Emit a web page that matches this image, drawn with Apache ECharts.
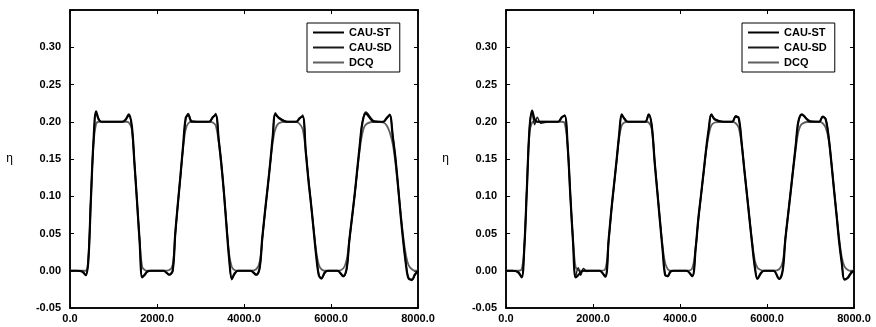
<!DOCTYPE html>
<html>
<head>
<meta charset="utf-8">
<script src="https://cdn.jsdelivr.net/npm/echarts@6/dist/echarts.min.js"></script>
<style>
html,body{margin:0;padding:0;background:#fff;}
#c{width:876px;height:327px;}
</style>
</head>
<body>
<div id="c"></div>
<script>
// Shared abscissa (t)
const X = [0,150,280,360,420,480,540,600,660,720,800,1000,1200,1280,1350,1420,1480,1540,1600,1660,1720,1780,1860,1930,
2000,2150,2280,2360,2420,2480,2540,2600,2660,2720,2800,3000,3200,3280,3350,3420,3480,3540,3600,3660,3720,3780,3860,3930,
4000,4150,4280,4360,4420,4480,4540,4600,4660,4720,4800,5000,5200,5280,5350,5420,5480,5540,5600,5660,5720,5780,5860,5930,
6000,6150,6280,6360,6420,6480,6540,6600,6660,6720,6800,7000,7200,7280,7350,7420,7480,7540,7600,7660,7720,7780,7860,7930,8000];

// Left panel
const L_ST = [0,0,-0.001,-0.006,0.012,0.096,0.174,0.214,0.203,0.200,0.200,0.200,0.200,0.203,0.210,0.195,0.146,0.094,0.040,-0.009,-0.005,-0.001,0,0,
0,0,-0.005,0.000,0.050,0.090,0.128,0.168,0.205,0.209,0.200,0.200,0.200,0.206,0.209,0.175,0.143,0.104,0.058,0.015,-0.011,-0.004,0,0,
0,0,-0.005,0.004,0.044,0.078,0.110,0.143,0.180,0.210,0.205,0.200,0.200,0.205,0.207,0.160,0.122,0.090,0.055,0.020,-0.006,-0.010,-0.002,0,
0,0,-0.007,0.003,0.040,0.070,0.100,0.134,0.168,0.198,0.211,0.200,0.200,0.205,0.209,0.180,0.152,0.115,0.075,0.040,0.010,-0.010,-0.012,-0.005,0];
const L_SD = [0,0,-0.001,-0.005,0.014,0.098,0.172,0.211,0.204,0.200,0.200,0.200,0.200,0.202,0.208,0.193,0.147,0.095,0.042,-0.007,-0.006,-0.001,0,0,
0,0,-0.006,-0.001,0.048,0.089,0.127,0.166,0.203,0.211,0.201,0.200,0.200,0.205,0.211,0.176,0.145,0.105,0.060,0.017,-0.012,-0.005,0,0,
0,0,-0.006,0.003,0.043,0.077,0.109,0.142,0.178,0.212,0.206,0.200,0.200,0.204,0.209,0.162,0.124,0.091,0.056,0.021,-0.005,-0.011,-0.003,0,
0,0,-0.008,0.002,0.039,0.069,0.099,0.133,0.167,0.199,0.213,0.201,0.200,0.204,0.210,0.182,0.153,0.116,0.076,0.041,0.011,-0.009,-0.013,-0.006,0];
const L_DCQ = [0,0,0,0,0.015,0.095,0.170,0.197,0.200,0.200,0.200,0.200,0.200,0.200,0.199,0.190,0.145,0.092,0.040,0.005,0.001,0,0,0,
0,0,0.001,0.008,0.050,0.090,0.128,0.165,0.190,0.198,0.200,0.200,0.200,0.199,0.195,0.172,0.140,0.103,0.060,0.022,0.005,0.001,0,0,
0,0,0.002,0.012,0.042,0.077,0.110,0.143,0.172,0.190,0.198,0.200,0.200,0.197,0.190,0.160,0.124,0.090,0.057,0.026,0.008,0.002,0,0,
0,0,0.003,0.015,0.040,0.070,0.100,0.132,0.162,0.184,0.196,0.200,0.199,0.195,0.186,0.170,0.145,0.113,0.078,0.046,0.022,0.008,0.002,0,0];

// Right panel
const R_ST = [0,0,-0.002,-0.009,0.030,0.110,0.190,0.215,0.203,0.200,0.200,0.200,0.200,0.206,0.208,0.165,0.100,0.040,-0.009,-0.006,-0.002,0,0,0,
0,0,-0.008,0.042,0.080,0.114,0.147,0.182,0.210,0.204,0.200,0.200,0.200,0.210,0.195,0.144,0.105,0.066,0.028,-0.006,-0.007,-0.001,0,0,
0,0,-0.007,0.030,0.069,0.100,0.131,0.163,0.190,0.210,0.203,0.200,0.200,0.207,0.205,0.170,0.135,0.102,0.068,0.035,0.005,-0.011,-0.003,0,
0,0,-0.011,0.000,0.041,0.073,0.104,0.136,0.168,0.200,0.210,0.200,0.200,0.207,0.203,0.178,0.145,0.109,0.074,0.038,0.010,-0.012,-0.009,-0.003,0];
const R_SD = [0,0,-0.002,-0.008,0.032,0.112,0.192,0.212,0.196,0.206,0.198,0.200,0.200,0.205,0.209,0.166,0.101,0.041,-0.008,0.004,-0.006,0.003,-0.001,0,
0,0,-0.007,0.040,0.079,0.113,0.146,0.181,0.209,0.205,0.200,0.200,0.200,0.209,0.196,0.145,0.106,0.067,0.029,-0.005,-0.008,-0.002,0,0,
0,0,-0.008,0.029,0.068,0.099,0.130,0.162,0.189,0.209,0.204,0.200,0.200,0.208,0.204,0.171,0.136,0.103,0.069,0.036,0.006,-0.010,-0.004,0,
0,0,-0.011,0.001,0.042,0.074,0.105,0.137,0.169,0.199,0.209,0.201,0.200,0.206,0.204,0.179,0.146,0.110,0.075,0.039,0.011,-0.011,-0.010,-0.004,0];
const R_DCQ = [0,0,0,0.002,0.030,0.110,0.185,0.199,0.200,0.200,0.200,0.200,0.200,0.200,0.198,0.165,0.100,0.042,0.005,0.001,0,0,0,0,
0,0,0.002,0.040,0.080,0.113,0.146,0.178,0.195,0.199,0.200,0.200,0.200,0.199,0.190,0.145,0.106,0.068,0.033,0.010,0.002,0,0,0,
0,0,0.003,0.032,0.068,0.099,0.130,0.160,0.182,0.195,0.199,0.200,0.200,0.198,0.192,0.168,0.134,0.101,0.069,0.038,0.014,0.004,0.001,0,
0,0,0.002,0.012,0.041,0.072,0.103,0.134,0.163,0.186,0.197,0.200,0.200,0.198,0.192,0.175,0.144,0.109,0.075,0.043,0.018,0.006,0.001,0,0];

const NAMES = ['CAU-ST','CAU-SD','DCQ'];
const X_TICKS = [0, 2000, 4000, 6000, 8000];
const Y_TICKS = [-0.05, 0.00, 0.05, 0.10, 0.15, 0.20, 0.25, 0.30];
const Y_NAME = 'η';

const STYLES = [
  {color:'#000', width:2.2},
  {color:'#1a1a1a', width:1.4},
  {color:'#5e5e5e', width:1.8}
];
const FONT = 'Liberation Sans';

function zip(ys){ return X.map((x,i)=>[x, ys[i]]); }

const grids = [
  {left:70, right:458, top:10, bottom:19, show:true, borderColor:'#000', borderWidth:1.5, backgroundColor:'#fff'},
  {left:506, right:22, top:10, bottom:19, show:true, borderColor:'#000', borderWidth:1.5, backgroundColor:'#fff'}
];

const xAxes = [], yAxes = [];
[0,1].forEach(g=>{
  xAxes.push({
    type:'value', gridIndex:g, min:0, max:8000, interval:2000, position:'bottom',
    axisLine:{show:true, onZero:false, lineStyle:{color:'#000', width:1.5}},
    axisTick:{show:true, inside:true, length:4, lineStyle:{color:'#000'}},
    splitLine:{show:false},
    axisLabel:{color:'#000', fontFamily:FONT, fontSize:11, fontWeight:'bold', margin:5,
      formatter:v=> X_TICKS.indexOf(v)>=0 ? v.toFixed(1) : ''}
  });
  xAxes.push({
    type:'value', gridIndex:g, min:0, max:8000, interval:2000, position:'top',
    axisLine:{show:true, onZero:false, lineStyle:{color:'#000', width:1.5}},
    axisTick:{show:true, inside:true, length:4, lineStyle:{color:'#000'}},
    splitLine:{show:false}, axisLabel:{show:false}
  });
  yAxes.push({
    type:'value', gridIndex:g, min:-0.05, max:0.35, interval:0.05, position:'left',
    name:Y_NAME, nameLocation:'middle', nameRotate:0, nameGap:57,
    nameTextStyle:{color:'#000', fontFamily:FONT, fontSize:12},
    axisLine:{show:true, onZero:false, lineStyle:{color:'#000', width:1.5}},
    axisTick:{show:true, inside:true, length:4, lineStyle:{color:'#000'}},
    splitLine:{show:false},
    axisLabel:{color:'#000', fontFamily:FONT, fontSize:11, fontWeight:'bold', margin:9,
      formatter:v=>{ const r = Math.round(v*100)/100; return Y_TICKS.some(t=>Math.abs(t-r)<1e-9) ? r.toFixed(2) : ''; }}
  });
  yAxes.push({
    type:'value', gridIndex:g, min:-0.05, max:0.35, interval:0.05, position:'right',
    axisLine:{show:true, onZero:false, lineStyle:{color:'#000', width:1.5}},
    axisTick:{show:true, inside:true, length:4, lineStyle:{color:'#000'}},
    splitLine:{show:false}, axisLabel:{show:false}
  });
});

const panels = [[L_ST, L_SD, L_DCQ], [R_ST, R_SD, R_DCQ]];
const series = [];
panels.forEach((arrs, g)=>{
  arrs.forEach((ys, k)=>{
    series.push({
      name:NAMES[k], type:'line', xAxisIndex:g*2, yAxisIndex:g*2,
      data:zip(ys), symbol:'none', smooth:0.35,
      lineStyle:{color:STYLES[k].color, width:STYLES[k].width},
      itemStyle:{color:STYLES[k].color},
      z: 3-k
    });
  });
});

const legendBase = {
  orient:'vertical', top:23, padding:[4,8,4,5], itemGap:4, itemWidth:31, itemHeight:12,
  borderColor:'#000', borderWidth:1, backgroundColor:'#fff',
  itemStyle:{opacity:0},
  textStyle:{color:'#000', fontFamily:FONT, fontSize:11, fontWeight:'bold'},
  data:NAMES, selectedMode:false
};

const option = {
  animation:false,
  backgroundColor:'#fff',
  grid:grids, xAxis:xAxes, yAxis:yAxes, series:series,
  legend:[Object.assign({}, legendBase, {left:307}), Object.assign({}, legendBase, {left:742})]
};
const chart = echarts.init(document.getElementById('c'), null, {renderer:'canvas'});
chart.setOption(option);
</script>
</body>
</html>
